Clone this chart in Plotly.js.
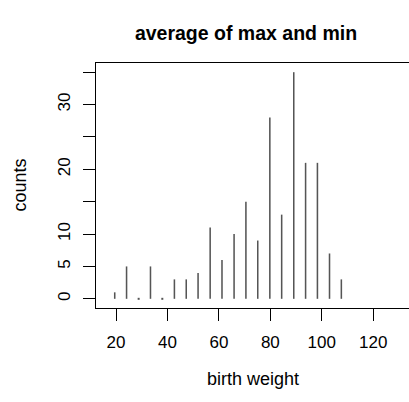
<!DOCTYPE html>
<html>
<head>
<meta charset="utf-8">
<script src="https://cdn.plot.ly/plotly-3.0.1.min.js"></script>
<style>html,body{margin:0;padding:0;background:#fff;overflow:hidden;}</style>
</head>
<body>
<div id="chart" style="width:409px;height:402px;"></div>
<script>
// Midpoints ("average of max and min") and counts
const mids = [19.5, 24.1, 28.8, 33.4, 38.0, 42.7, 47.3, 51.9, 56.6, 61.2,
              65.9, 70.5, 75.1, 79.8, 84.4, 89.1, 93.7, 98.3, 103.0, 107.6];
const counts = [1, 5, 0, 5, 0, 3, 3, 4, 11, 6, 10, 15, 9, 28, 13, 35, 21, 21, 7, 3];
const xTicks = [20, 40, 60, 80, 100, 120];
const yTicks = [0, 5, 10, 15, 20, 25, 30, 35];
const yTickText = ['0', '5', '10', '', '20', '', '30', ''];

const zeroX = mids.filter((m, i) => counts[i] === 0);
const zeroY = zeroX.map(() => 0);

const font = 'Liberation Sans, Arial, Helvetica, sans-serif';

const data = [
  {type: 'bar', x: mids, y: counts, width: 0.6,
   marker: {color: '#555555', line: {width: 0}}, hoverinfo: 'x+y'},
  {type: 'scatter', mode: 'markers', x: zeroX, y: zeroY,
   marker: {symbol: 'square', size: 2, color: '#555555'}, hoverinfo: 'skip'}
];

const layout = {
  width: 409, height: 402,
  margin: {l: 96, r: 0, t: 63, b: 94},
  paper_bgcolor: '#fff', plot_bgcolor: '#fff',
  showlegend: false,
  font: {family: font, size: 17, color: '#000'},
  title: {text: '<b>average of max and min</b>', font: {family: font, size: 19.5, color: '#000'},
          x: 246 / 409, xref: 'container', xanchor: 'center',
          y: 1 - 33 / 402, yref: 'container', yanchor: 'middle'},
  xaxis: {range: [12.22, 133.9], tickmode: 'array', tickvals: xTicks,
          ticks: 'outside', ticklen: 12, tickwidth: 1, tickcolor: '#000',
          showline: true, linecolor: '#000', linewidth: 1, mirror: true,
          showgrid: false, zeroline: false, tickfont: {size: 17},
          ticklabelstandoff: 7},
  yaxis: {range: [-1.42, 36.42], tickmode: 'array', tickvals: yTicks, ticktext: yTickText,
          tickangle: -90, ticks: 'outside', ticklen: 12, tickwidth: 1, tickcolor: '#000',
          showline: true, linecolor: '#000', linewidth: 1, mirror: false,
          showgrid: false, zeroline: false, tickfont: {size: 17},
          ticklabelstandoff: 6},
  annotations: [
    {text: 'birth weight', xref: 'paper', yref: 'paper', x: 0.5, xanchor: 'center',
     y: -(380 - 308.5) / 245.5, yanchor: 'middle', showarrow: false,
     font: {family: font, size: 18, color: '#000'}},
    {text: 'counts', xref: 'paper', yref: 'paper', x: -(96 - 19) / 313, xanchor: 'center',
     y: 0.5, yanchor: 'middle', textangle: -90, showarrow: false,
     font: {family: font, size: 18, color: '#000'}}
  ]
};

Plotly.newPlot('chart', data, layout, {displayModeBar: false, staticPlot: true});
</script>
</body>
</html>
